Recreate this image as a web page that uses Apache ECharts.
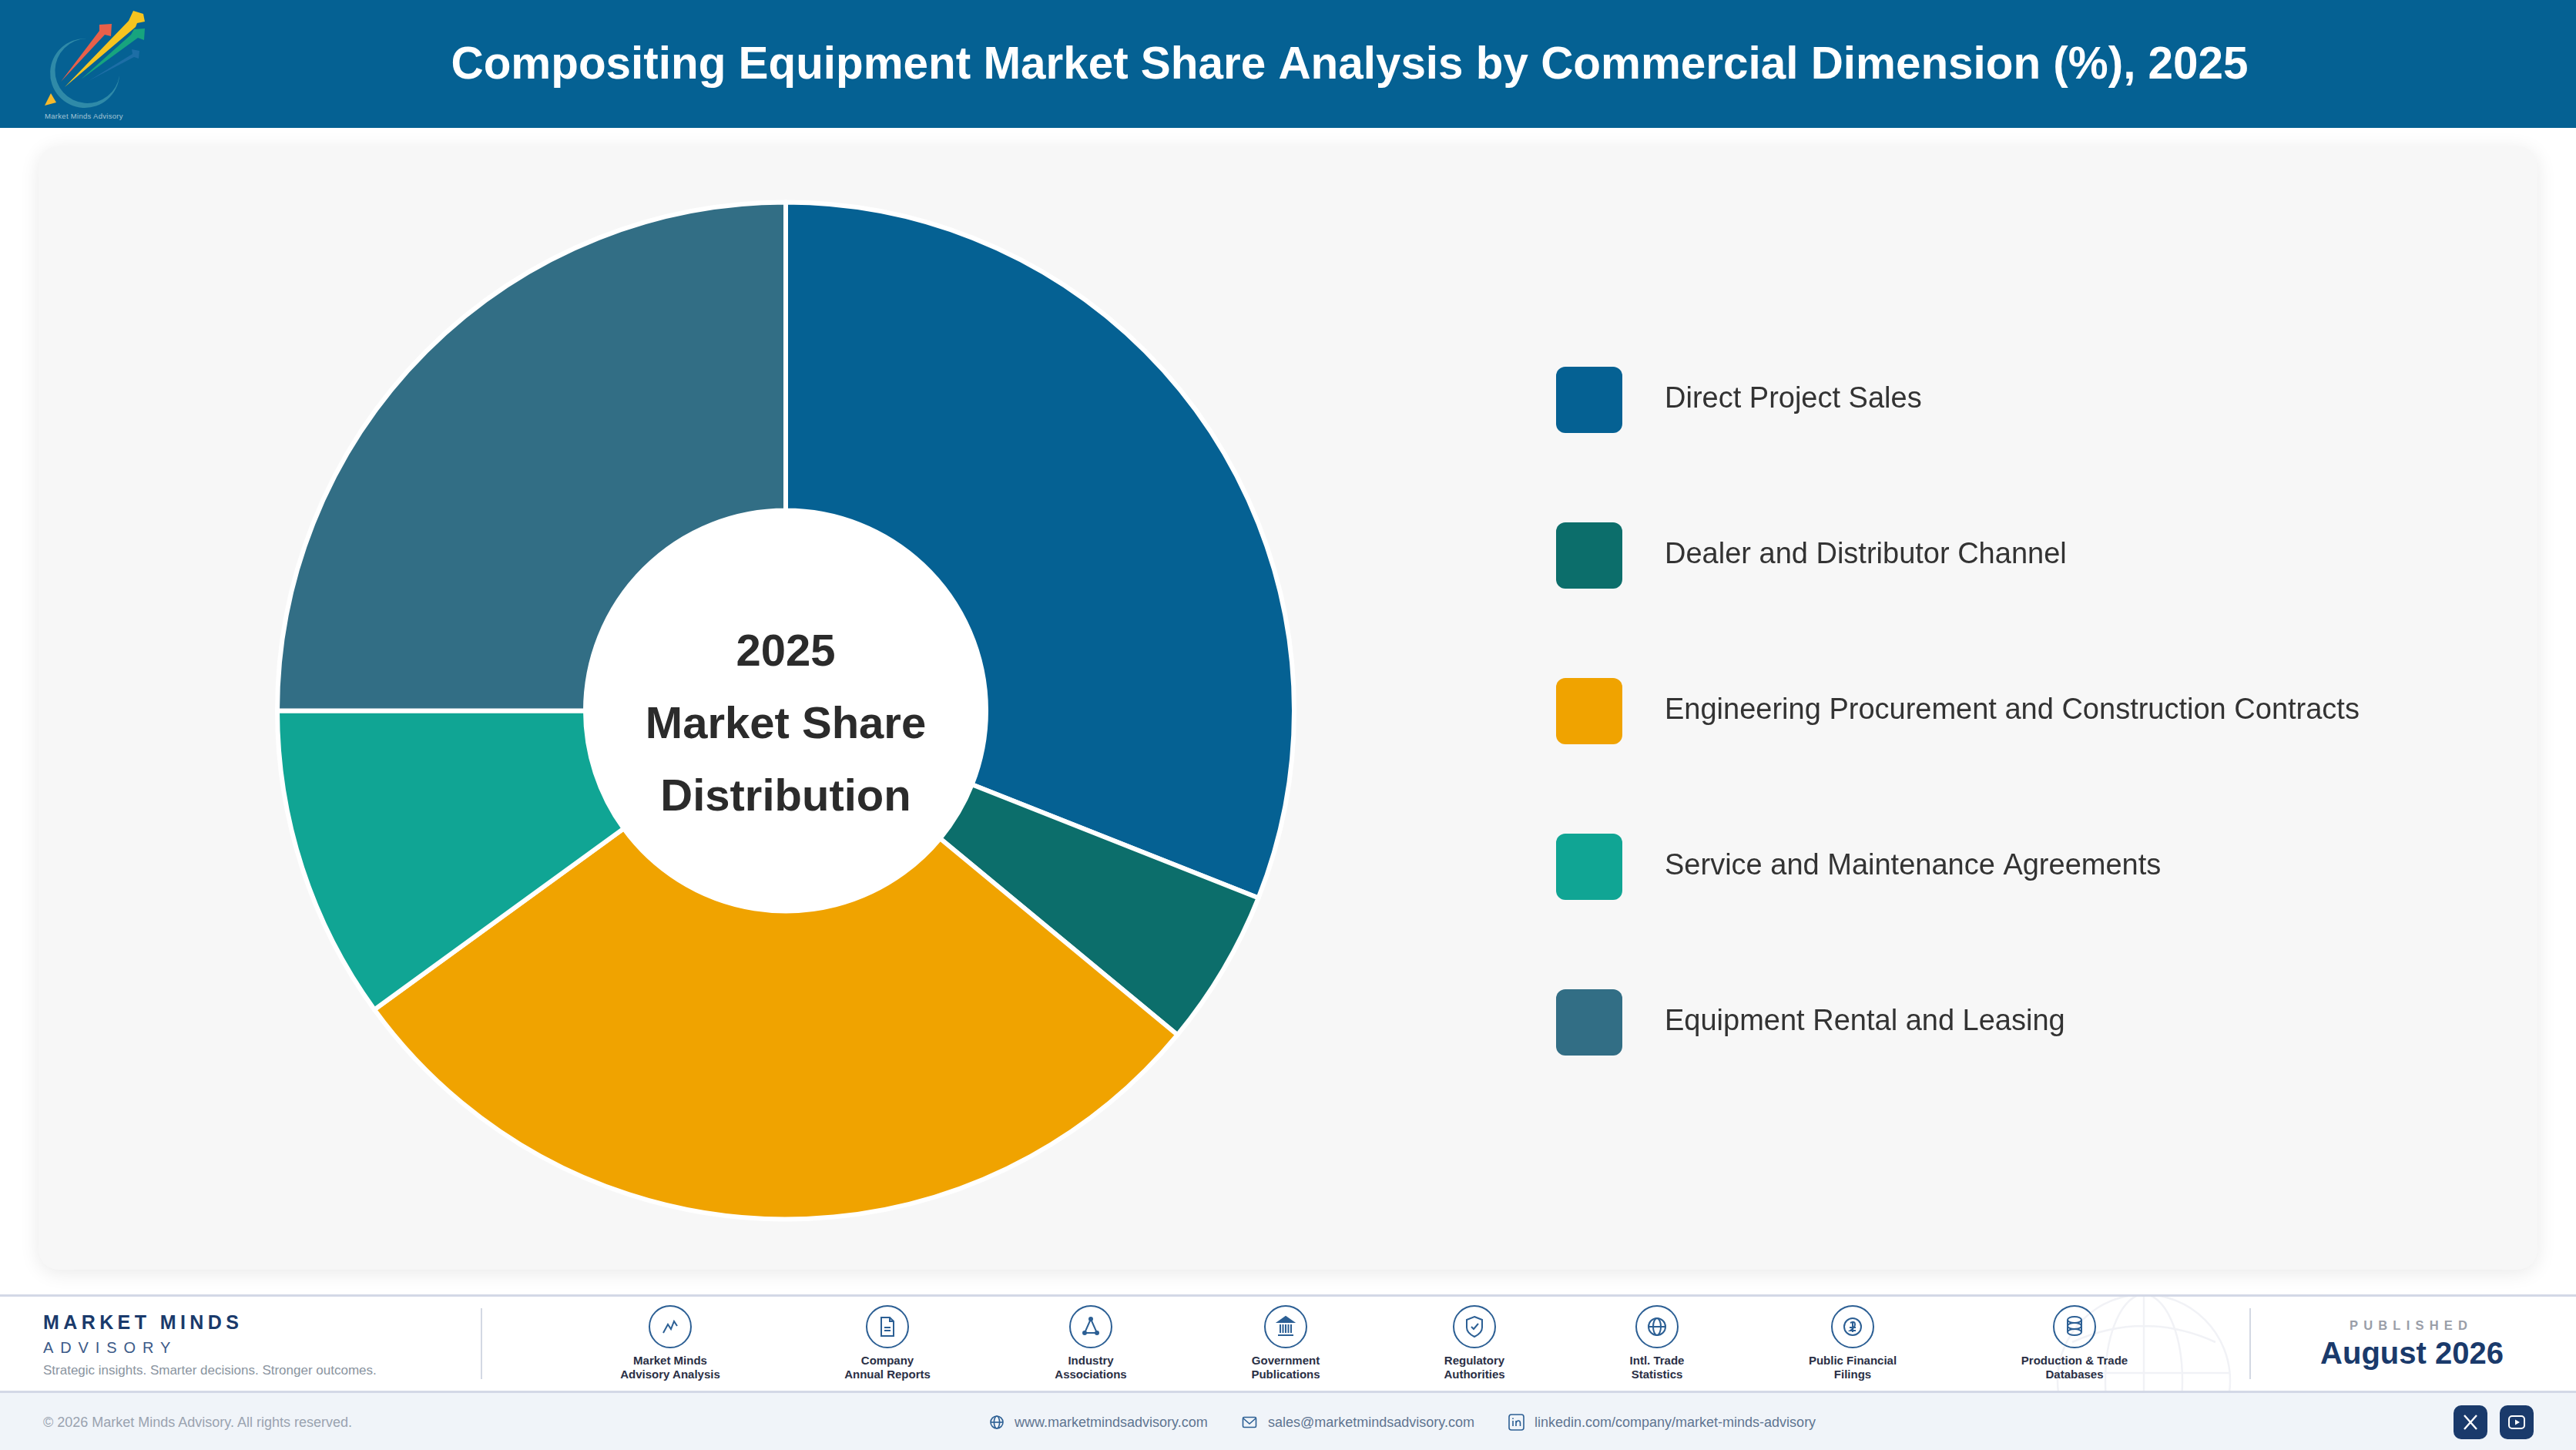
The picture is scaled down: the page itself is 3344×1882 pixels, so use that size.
<!DOCTYPE html>
<html>
<head>
<meta charset="utf-8">
<title>Compositing Equipment Market Share</title>
<script src="https://cdn.jsdelivr.net/npm/echarts@6/dist/echarts.min.js"></script>
<style>
  html, body { margin: 0; padding: 0; width: 3344px; height: 1882px; overflow: hidden; background: #fff; font-family: "Liberation Sans", Arial, sans-serif; }
  .abs { position: absolute; white-space: nowrap; line-height: 1; }
  .mid { transform: translateX(-50%); text-align: center; }
  #header { position: absolute; left: 0; top: 0; width: 3344px; height: 166px; background: #056193; }
  #card { position: absolute; left: 50px; top: 190px; width: 3244px; height: 1458px; background: #f7f7f7; border-radius: 26px; box-shadow: 0 4px 26px rgba(0, 0, 0, .09); }
  #footer { position: absolute; left: 0; top: 1680px; width: 3344px; height: 128px; background: #fff; border-top: 3px solid #d3d8e6; border-bottom: 3px solid #d3d8e6; box-sizing: border-box; overflow: hidden; }
  #strip { position: absolute; left: 0; top: 1808px; width: 3344px; height: 74px; background: #f0f4f9; }
  #main { position: absolute; left: 0; top: 0; width: 3344px; height: 1882px; }
  .vline { position: absolute; width: 2px; top: 1698px; height: 92px; background: #d3d8e3; }
  .src { font-size: 15px; font-weight: bold; color: #2a2f45; line-height: 18px; }
  .link { font-size: 18px; color: #5f7591; }
  .social { position: absolute; top: 1824px; width: 44px; height: 44px; border-radius: 10px; background: #1a3a6b; }
</style>
</head>
<body>
<div id="header">
  <svg class="abs" style="left:0;top:0" width="220" height="166" viewBox="0 0 220 166">
    <path d="M112 50A45 45 0 1 0 155 98A42 42 0 1 1 112 50Z" fill="#2f8aa8"/>
    <polygon points="58,137 73,133 66,121" fill="#f6b92c"/>
    <polygon points="79,106 129,40 129,32 145,31 144,47 136,45" fill="#e8604a"/>
    <polygon points="84,113 167,27 173,14 186,18 188,28 178,30 176,35" fill="#f6c41f"/>
    <polygon points="105,103 170,45 174,38 188,37 187,52 179,49" fill="#17a47e"/>
    <polygon points="115,105 172,70 171,64 181,66 180,76 174,74" fill="#1d6ea6"/>
    <text x="58" y="154" font-size="9.5" fill="#a5c6d6" font-family="Liberation Sans" letter-spacing=".3">Market Minds Advisory</text>
  </svg>
</div>
<div id="card"></div>

<div id="footer">
  <svg class="abs" style="left:2660px;top:-3px" width="250" height="128" viewBox="0 0 250 128" fill="none" stroke="#f1f2f6" stroke-width="2.5">
    <circle cx="123" cy="112" r="112"/><ellipse cx="123" cy="112" rx="50" ry="112"/>
    <path d="M123 0V128M11 102H235M30 62Q123 20 216 62"/>
  </svg>
</div>
<div id="strip"></div>

<div class="abs" style="left:56px;top:1704px;font-size:25px;font-weight:bold;color:#1a3a6b;letter-spacing:5.4px">MARKET MINDS</div>
<div class="abs" style="left:56px;top:1739px;font-size:20px;color:#3c5a88;letter-spacing:8.9px">ADVISORY</div>
<div class="abs" style="left:56px;top:1770px;font-size:17px;color:#8a94a0">Strategic insights. Smarter decisions. Stronger outcomes.</div>
<div class="vline" style="left:624px"></div>
<div class="vline" style="left:2920px"></div>
<div id="sources"></div>
<div class="abs mid" style="left:3130px;top:1712px;font-size:16.5px;font-weight:bold;color:#9a9ea8;letter-spacing:7.2px">PUBLISHED</div>
<div class="abs mid" style="left:3131px;top:1736px;font-size:40px;font-weight:bold;color:#1a3a6b">August 2026</div>

<div class="abs" style="left:56px;top:1837px;font-size:18px;color:#9aa3b0">© 2026 Market Minds Advisory. All rights reserved.</div>
<svg class="abs" style="left:1284px;top:1836px" width="20" height="20" viewBox="0 0 20 20" fill="none" stroke="#2c5f94" stroke-width="1.6"><circle cx="10" cy="10" r="8"/><ellipse cx="10" cy="10" rx="3.6" ry="8"/><path d="M2 10H18"/></svg>
<div class="abs link" style="left:1317px;top:1837px">www.marketmindsadvisory.com</div>
<svg class="abs" style="left:1612px;top:1836px" width="20" height="20" viewBox="0 0 20 20" fill="none" stroke="#2c5f94" stroke-width="1.6"><rect x="1.5" y="3.5" width="17" height="13" rx="1.5"/><path d="M2 5L10 12L18 5"/></svg>
<div class="abs link" style="left:1646px;top:1837px">sales@marketmindsadvisory.com</div>
<svg class="abs" style="left:1958px;top:1835px" width="21" height="22" viewBox="0 0 21 22" fill="none" stroke="#2c5f94" stroke-width="1.6"><rect x="1" y="1" width="19" height="20" rx="3"/><path d="M6 9V16M6 5.5V7M10 16V9M10 12Q11 9 13 9Q15.5 9 15.5 12V16"/></svg>
<div class="abs link" style="left:1992px;top:1837px">linkedin.com/company/market-minds-advisory</div>
<div class="social" style="left:3185px"><svg width="44" height="44" viewBox="0 0 44 44" fill="none" stroke="#fff" stroke-width="2.4"><path d="M14 13L30 31M30 13L14 31"/></svg></div>
<div class="social" style="left:3245px"><svg width="44" height="44" viewBox="0 0 44 44" fill="none" stroke="#fff" stroke-width="2"><rect x="12" y="14" width="20" height="16" rx="4"/><path d="M20 18.5V25.5L26 22Z" fill="#fff" stroke="none"/></svg></div>

<div id="main"></div>

<script>
var chartTitle = 'Compositing Equipment Market Share Analysis by Commercial Dimension (%), 2025';
var centerLines = ['2025', 'Market Share', 'Distribution'];
var categories = ['Direct Project Sales', 'Dealer and Distributor Channel', 'Engineering Procurement and Construction Contracts', 'Service and Maintenance Agreements', 'Equipment Rental and Leasing'];
var shares = [31, 5, 29, 10, 25];
var sliceColors = ['#056193', '#0c6e6b', '#f0a300', '#10a594', '#326e85'];

// footer data sources: label lines + centre x + icon
var sourceLines = [
  ['Market Minds', 'Advisory Analysis'], ['Company', 'Annual Reports'], ['Industry', 'Associations'], ['Government', 'Publications'],
  ['Regulatory', 'Authorities'], ['Intl. Trade', 'Statistics'], ['Public Financial', 'Filings'], ['Production & Trade', 'Databases']
];
var sourceX = [870, 1152, 1416, 1669, 1914, 2151, 2405, 2693];
var sourceIcons = [
  '<path d="M-9 8L-3 -3L1 3L5 -7L9 -1"/>',
  '<path d="M-8 -12H3L8 -7V12H-8ZM3 -12V-7H8M-4 1H4M-4 5H4"/>',
  '<path d="M0 -10L-8 8H8ZM0 -10V-10"/><circle cx="0" cy="-10" r="2" fill="#2c5f94"/><circle cx="-8" cy="8" r="2" fill="#2c5f94"/><circle cx="8" cy="8" r="2" fill="#2c5f94"/>',
  '<path d="M-10 -6L0 -13L10 -6Z" fill="#2c5f94"/><path d="M-7 -3V8M-3.5 -3V8M0 -3V8M3.5 -3V8M7 -3V8M-10 11H10" />',
  '<path d="M0 -13L10 -9V1Q10 8 0 13Q-10 8 -10 1V-9ZM-4 0L-1 3L5 -4"/>',
  '<circle r="11"/><ellipse rx="5" ry="11"/><path d="M-11 0H11"/>',
  '<circle r="11"/><path d="M-3 -5Q3 -8 3 -3Q3 1 -3 5H4M-4 1H4M0 -7V7"/>',
  '<ellipse cy="-9" rx="9" ry="4"/><ellipse cy="-1" rx="9" ry="4"/><ellipse cy="7" rx="9" ry="4"/><path d="M-9 -9V7M9 -9V7"/>'
];

var html = '';
for (var i = 0; i < sourceLines.length; i++) {
  html += '<svg class="abs" style="left:' + (sourceX[i] - 29) + 'px;top:1693px" width="58" height="58" viewBox="-29 -29 58 58" fill="none" stroke="#2c5f94" stroke-width="2">'
    + '<circle r="27"/>' + sourceIcons[i] + '</svg>';
  html += '<div class="abs mid src" style="left:' + sourceX[i] + 'px;top:1757px">' + sourceLines[i][0].replace('&', '&amp;') + '<br>' + sourceLines[i][1] + '</div>';
}
document.getElementById('sources').innerHTML = html;

var pieData = [];
for (var j = 0; j < categories.length; j++) {
  pieData.push({ name: categories[j], value: shares[j], itemStyle: { color: sliceColors[j] } });
}

var myChart = echarts.init(document.getElementById('main'));
myChart.setOption({
  animation: false,
  backgroundColor: 'transparent',
  title: [
    {
      text: chartTitle,
      left: 1752,
      top: 57,
      padding: 0,
      textAlign: 'center',
      textStyle: { color: '#fff', fontSize: 58.4, fontWeight: 'bold', fontFamily: 'Liberation Sans' }
    },
    {
      text: centerLines.join('\n'),
      left: 1020,
      top: 801,
      padding: 0,
      textAlign: 'center',
      textStyle: { color: '#2b2b2b', fontSize: 58, fontWeight: 'bold', lineHeight: 94, fontFamily: 'Liberation Sans' }
    }
  ],
  legend: {
    orient: 'vertical',
    left: 2020,
    top: 476,
    padding: 0,
    itemWidth: 86,
    itemHeight: 86,
    itemGap: 116,
    selectedMode: false,
    icon: 'path://M12 0H74A12 12 0 0 1 86 12V74A12 12 0 0 1 74 86H12A12 12 0 0 1 0 74V12A12 12 0 0 1 12 0Z',
    itemStyle: { borderWidth: 0 },
    textStyle: { color: '#333', fontSize: 38, fontFamily: 'Liberation Sans', padding: [8, 0, 0, 50] },
    data: categories
  },
  series: [
    {
      type: 'pie',
      center: [1020, 922.5],
      radius: [260, 660],
      startAngle: 90,
      clockwise: true,
      silent: true,
      itemStyle: { borderColor: '#fff', borderWidth: 6 },
      label: { show: false },
      labelLine: { show: false },
      data: pieData
    }
  ],
  graphic: [
    { type: 'circle', z: 0, silent: true, shape: { cx: 1020, cy: 922.5, r: 263 }, style: { fill: '#fff' } }
  ]
});
</script>
</body>
</html>
